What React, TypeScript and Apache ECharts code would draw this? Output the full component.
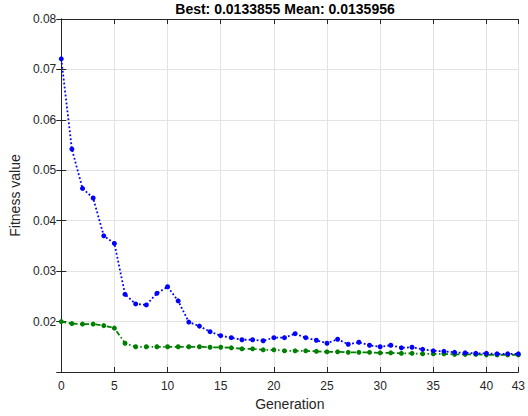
import React, { useEffect, useRef } from "react";
import * as echarts from "echarts";

const titleText = "Best: 0.0133855 Mean: 0.0135956";
const xName = "Generation";
const yName = "Fitness value";

const generations = Array.from({ length: 44 }, (_, i) => i);

const meanValues = [
  0.0721, 0.0542, 0.0464, 0.0445, 0.037, 0.0355, 0.0254, 0.0235, 0.0233, 0.0256,
  0.0269, 0.0241, 0.0199, 0.0191, 0.018, 0.0172, 0.0168, 0.0164, 0.0164, 0.0162,
  0.0168, 0.0168, 0.0176, 0.0168, 0.0163, 0.0157, 0.0165, 0.0155, 0.0159, 0.0153,
  0.015, 0.0153, 0.0148, 0.0149, 0.0145, 0.0142, 0.0141, 0.0139, 0.0138, 0.0137,
  0.0137, 0.0136, 0.0136, 0.0135956,
];

const bestValues = [
  0.02, 0.0196, 0.0195, 0.0195, 0.0192, 0.0187, 0.0157, 0.015, 0.015, 0.015,
  0.015, 0.015, 0.015, 0.015, 0.0149, 0.0149, 0.0148, 0.0146, 0.0146, 0.0144,
  0.0144, 0.0142, 0.0142, 0.0142, 0.0141, 0.014, 0.014, 0.0139, 0.0139, 0.0139,
  0.0138, 0.0138, 0.0137, 0.0137, 0.0136, 0.0136, 0.0136, 0.0135, 0.0135, 0.0135,
  0.0134, 0.0134, 0.0134, 0.0133855,
];

const FONT = "'Liberation Sans', Arial, Helvetica, sans-serif";
const AX = "#262626";
const GRID = "#e3e3e3";

export default function App() {
  const ref = useRef<HTMLDivElement>(null);
  useEffect(() => {
    document.body.style.margin = "0";
    if (!ref.current) return;
    const chart = echarts.init(ref.current, undefined, { renderer: "svg" });
    const axisLine = { show: true, lineStyle: { color: AX, width: 1 } };
    const tick = { show: true, inside: true, length: 5, lineStyle: { color: AX } };
    chart.setOption({
      animation: false,
      backgroundColor: "#ffffff",
      textStyle: { fontFamily: FONT },
      title: {
        text: titleText,
        left: 285,
        top: 2,
        padding: 0,
        textAlign: "center",
        textStyle: { fontFamily: FONT, fontSize: 14, fontWeight: "bold", color: "#000" },
      },
      grid: { left: 61, right: 6, top: 19, bottom: 43, containLabel: false },
      xAxis: [
        {
          type: "value",
          min: 0,
          max: 43,
          interval: 5,
          name: xName,
          nameLocation: "middle",
          nameGap: 25,
          nameTextStyle: { fontFamily: FONT, fontSize: 14, color: AX },
          axisLine,
          axisTick: tick,
          axisLabel: { fontFamily: FONT, fontSize: 12, color: AX, margin: 8 },
          splitLine: { show: true, lineStyle: { color: GRID, width: 1 } },
        },
        {
          type: "value",
          position: "top",
          min: 0,
          max: 43,
          interval: 5,
          axisLine,
          axisTick: tick,
          axisLabel: { show: false },
          splitLine: { show: false },
        },
      ],
      yAxis: [
        {
          type: "value",
          min: 0.01,
          max: 0.08,
          interval: 0.01,
          name: yName,
          nameLocation: "middle",
          nameGap: 35,
          nameTextStyle: { fontFamily: FONT, fontSize: 14, color: AX },
          axisLine,
          axisTick: tick,
          axisLabel: {
            fontFamily: FONT,
            fontSize: 12,
            color: AX,
            margin: 5,
            formatter: (v: number) => (v < 0.015 ? "" : v.toFixed(2)),
          },
          splitLine: { show: true, lineStyle: { color: GRID, width: 1 } },
        },
        {
          type: "value",
          position: "right",
          min: 0.01,
          max: 0.08,
          interval: 0.01,
          axisLine,
          axisTick: tick,
          axisLabel: { show: false },
          splitLine: { show: false },
        },
      ],
      series: [
        {
          name: "Best fitness",
          type: "line",
          data: generations.map((g, i) => [g, bestValues[i]]),
          symbol: "circle",
          symbolSize: 5,
          itemStyle: { color: "#008000" },
          lineStyle: { color: "#008000", width: 1.8, type: [5, 2.5, 1.5, 2.5] },
          z: 2,
        },
        {
          name: "Mean fitness",
          type: "line",
          data: generations.map((g, i) => [g, meanValues[i]]),
          symbol: "circle",
          symbolSize: 5,
          itemStyle: { color: "#0000ff" },
          lineStyle: { color: "#0000ff", width: 1.8, type: [1.8, 2.2] },
          z: 3,
        },
      ],
    });
    return () => chart.dispose();
  }, []);
  return <div ref={ref} style={{ width: 528, height: 416 }} />;
}
